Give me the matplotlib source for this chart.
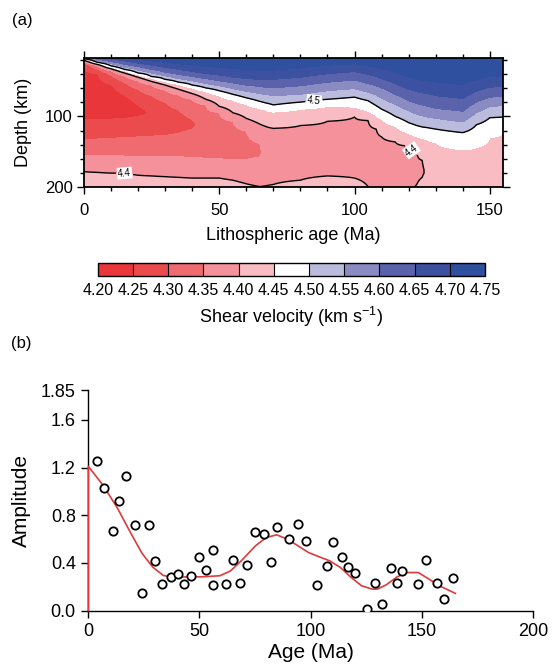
import numpy as np
import matplotlib
matplotlib.use("Agg")
import matplotlib.pyplot as plt
from matplotlib.ticker import MultipleLocator, FixedLocator

plt.rcParams['font.family'] = ['Liberation Sans', 'DejaVu Sans']
plt.rcParams['mathtext.fontset'] = 'custom'
plt.rcParams['mathtext.rm'] = 'Liberation Sans'
plt.rcParams['mathtext.it'] = 'Liberation Sans:italic'

nan = np.nan

# ---------------- Panel (a): shear velocity section (contour depths)
LEVELS = [4.20, 4.25, 4.30, 4.35, 4.40, 4.45, 4.50, 4.55, 4.60, 4.65, 4.70, 4.75]
BAND_COLORS = ['#e8363a', '#ec4b4e', '#f06b70', '#f4919a', '#f9bcc3', '#ffffff',
               '#bbbcdd', '#8a8bc3', '#5a62ab', '#3d51a1', '#2f4f9f']
CB_TICKLABELS = ['4.20', '4.25', '4.30', '4.35', '4.40', '4.45', '4.50', '4.55',
                 '4.60', '4.65', '4.70', '4.75']

DEPTH_TOP = 18.3
DEPTH_BOT = 200.0
AGES = [0, 5, 10, 15, 20, 25, 30, 35, 40, 45, 50, 55, 60, 65, 67, 70, 80, 90, 100,
        105, 108, 110, 115, 120, 123, 125, 127, 130, 140, 145, 150, 155]
VTOP = [4.52, 4.62, 4.67, 4.69, 4.71] + [4.745] * 27
U470 = [nan, nan, nan, nan, 20, 22, 24, 26, 28, 30, 31, 33, 34, 35, 35, 35, 32, 28, 26,
        29, 31, 33, 39, 45, 48, 49, 50, 52, 56, 49, 44, 43]
U465 = [nan, nan, 19.5, 22, 25, 28, 31, 34, 37, 40, 42, 45, 47, 48, 48, 48, 45, 40, 37,
        41, 44, 47, 54, 62, 65, 67, 68, 71, 75, 65, 59, 58]
U460 = [nan, 20, 23, 27, 30, 34, 38, 41, 44, 47, 50, 53, 56, 58, 59, 60, 57, 52, 49,
        54, 57, 60, 69, 78, 82, 84, 86, 89, 93, 80, 73, 72]
U455 = [nan, 22, 26, 31, 35, 39, 43, 47, 50, 54, 57, 61, 65, 68, 69, 71, 69, 64, 61,
        66, 70, 74, 83, 92, 97, 99, 101, 103, 108, 95, 86, 85]
U450 = [19.0, 24, 29, 34, 39, 44, 48, 52, 56, 60, 64, 69, 74, 79, 81, 84, 80, 76, 73,
        78, 85, 90, 100, 109, 113, 115, 116, 118, 123, 112, 102, 101]
U445 = [20, 25.5, 31, 36, 41, 46, 51, 55, 60, 65, 71, 77, 83, 89, 91, 94, 90, 86, 87,
        93, 99, 104, 114, 124, 129, 131, 133, 137, 147, 144, 130, 121]
U440 = [21, 27, 33, 39, 45, 51, 56, 62, 68, 76, 86, 95, 103, 111, 114, 117, 113, 107, 101,
        106, 118, 129, 136, 142, 150, 162, nan, nan, nan, nan, nan, nan]
U435 = [23, 29, 36, 43, 50, 56, 63, 70, 76, 84, 95, 107, 121, 138] + [nan] * 18
U430 = [25, 33, 42, 52, 62, 71, 80, 91, 104] + [nan] * 23
U425 = [28, 40, 55, 70, 84] + [nan] * 27
DMIN = [70, 75, 80, 85, 92, 97, 105, 108, 112, 125, 130, 135, 140, 148, 152, 155, 155, 155, 150,
        158, 162, 165, 170, 175, 176, 175, 180, 200, 200, 200, 200, 200]
VMIN = [4.215, 4.21, 4.21, 4.215, 4.235, 4.252, 4.265, 4.28, 4.29, 4.31, 4.32, 4.33, 4.34,
        4.347, 4.352, 4.36, 4.37, 4.37, 4.37, 4.37, 4.372, 4.375, 4.38, 4.385, 4.392,
        4.395, 4.405, 4.41, 4.42, 4.42, 4.42, 4.42]
L425 = [105, 105, 104, 103, 100] + [nan] * 27
L430 = [133, 132, 131, 130, 129, 128, 127, 124, 118] + [nan] * 23
L435 = [155, 155, 155, 156, 156, 156, 156, 157, 158, 159, 160, 161, 161, 158] + [nan] * 18
L440 = [178, 179, 180, 180, 183, 184, 185, 186, 187, 187, 187, 190, 195, 199, 198, 196, 190,
        184, 187, 199, nan, nan, nan, nan, 196, 186, nan, nan, nan, nan, nan, nan]
VBOT = [4.43, 4.43, 4.43, 4.43, 4.42, 4.42, 4.42, 4.42, 4.42, 4.42, 4.42, 4.415, 4.405,
        4.401, 4.402, 4.405, 4.42, 4.43, 4.42, 4.401, 4.39, 4.385, 4.385, 4.395, 4.402,
        4.41, 4.42, 4.42, 4.42, 4.42, 4.42, 4.42]
CONTOUR_LINES = [4.4, 4.5]

# ---------------- Panel (b): amplitude vs age
PT_AGE = [4.1, 7.0, 11.1, 14.0, 17.0, 21.0, 24.2, 27.2, 30.1, 33.1, 37.1, 40.3, 43.2, 46.2,
          50.0, 53.0, 56.1, 56.1, 62.1, 65.1, 68.2, 71.2, 75.0, 78.8, 82.2, 85.0, 90.1,
          94.1, 98.1, 103.0, 107.2, 110.0, 114.2, 117.0, 120.1, 125.2, 129.1, 132.0,
          136.0, 139.0, 140.9, 148.1, 152.1, 156.8, 160.0, 164.0]
PT_AMP = [1.254, 1.031, 0.666, 0.920, 1.132, 0.719, 0.145, 0.719, 0.415, 0.226, 0.282,
          0.309, 0.226, 0.293, 0.446, 0.337, 0.507, 0.212, 0.226, 0.426, 0.234, 0.385,
          0.661, 0.641, 0.407, 0.700, 0.599, 0.730, 0.588, 0.212, 0.373, 0.577, 0.446,
          0.365, 0.315, 0.017, 0.234, 0.053, 0.354, 0.234, 0.329, 0.223, 0.426, 0.234,
          0.095, 0.273]
FIT_AGE = [0, 0, 6.7, 13.1, 19.4, 24.2, 29, 33.8, 38.5, 44.9, 51.3, 59.2, 64, 68.8, 75.2,
           80, 84.7, 89.5, 94.3, 99, 103.8, 108.6, 113.4, 118.2, 122.9, 127.7, 130, 134,
           138.9, 143.6, 148.4, 153.2, 157.9, 165.1]
FIT_AMP = [0, 1.21, 1.05, 0.86, 0.64, 0.48, 0.365, 0.295, 0.28, 0.284, 0.284, 0.293, 0.334,
           0.418, 0.544, 0.613, 0.636, 0.60, 0.544, 0.488, 0.452, 0.418, 0.362, 0.279,
           0.209, 0.181, 0.181, 0.217, 0.284, 0.32, 0.32, 0.265, 0.209, 0.145]
B_YTICKS = [0.0, 0.4, 0.8, 1.2, 1.6, 1.85]
B_YTICKLABELS = ['0.0', '0.4', '0.8', '1.2', '1.6', '1.85']
B_XTICKS = [0, 50, 100, 150, 200]

# ---------------- build field from the read contour depths
up_sets = [(4.70, U470), (4.65, U465), (4.60, U460), (4.55, U455), (4.50, U450),
           (4.45, U445), (4.40, U440), (4.35, U435), (4.30, U430), (4.25, U425)]
lo_sets = [(4.25, L425), (4.30, L430), (4.35, L435), (4.40, L440)]
depth_grid = np.linspace(DEPTH_TOP, DEPTH_BOT, 600)
Z = np.empty((len(depth_grid), len(AGES)))
for j in range(len(AGES)):
    kd = [DEPTH_TOP]
    kv = [VTOP[j]]
    for lev, arr in up_sets:
        if not np.isnan(arr[j]):
            kd.append(arr[j]); kv.append(lev)
    kd.append(DMIN[j]); kv.append(VMIN[j])
    for lev, arr in lo_sets:
        if not np.isnan(arr[j]):
            kd.append(arr[j]); kv.append(lev)
    if DMIN[j] < DEPTH_BOT:
        kd.append(DEPTH_BOT); kv.append(VBOT[j])
    Z[:, j] = np.interp(depth_grid, kd, kv)

fig = plt.figure(figsize=(5.56, 6.65), dpi=100)
W, H = 556.0, 665.0

# ---- panel (a)
ax_a = fig.add_axes([84 / W, (H - 187.3) / H, 419.3 / W, 129 / H])
cf = ax_a.contourf(AGES, depth_grid, Z, levels=LEVELS, colors=BAND_COLORS)
cs = ax_a.contour(AGES, depth_grid, Z, levels=CONTOUR_LINES, colors='k', linewidths=1.0)
labels = ax_a.clabel(cs, fmt={4.4: '4.4', 4.5: '4.5'}, fontsize=7, inline=True,
                     inline_spacing=2, manual=[(85, 77), (15, 180), (121, 148)])
for t in labels:
    t.set_bbox(dict(facecolor='white', edgecolor='none', pad=0.6))
ax_a.set_xlim(0, 155)
ax_a.set_ylim(DEPTH_BOT, DEPTH_TOP)
ax_a.xaxis.set_major_locator(FixedLocator([0, 50, 100, 150]))
ax_a.xaxis.set_minor_locator(MultipleLocator(10))
ax_a.yaxis.set_major_locator(FixedLocator([100, 200]))
ax_a.yaxis.set_minor_locator(FixedLocator([20, 40, 60, 80, 120, 140, 160, 180]))
ax_a.tick_params(which='both', direction='out', top=True, right=True,
                 labelsize=12, width=1.0)
ax_a.tick_params(axis='x', which='major', length=5, pad=6)
ax_a.tick_params(axis='y', which='major', length=5, pad=3)
ax_a.tick_params(which='minor', length=3)
for s in ax_a.spines.values():
    s.set_linewidth(1.3)
ax_a.set_xlabel('Lithospheric age (Ma)', fontsize=13, va='center')
ax_a.xaxis.set_label_coords(0.5, (187.3 - 235) / 129)
ax_a.set_ylabel('Depth (km)', fontsize=13, va='center')
ax_a.yaxis.set_label_coords((23 - 84) / 419.3, 0.5)

# ---- colorbar
cax = fig.add_axes([97.7 / W, (H - 275.7) / H, 387.3 / W, 13 / H])
cb = fig.colorbar(cf, cax=cax, orientation='horizontal', ticks=LEVELS, drawedges=True)
cb.ax.set_xticklabels(CB_TICKLABELS)
cb.ax.tick_params(length=0, labelsize=11.5, pad=5)
cb.outline.set_linewidth(1.0)
cb.dividers.set_linewidth(0.8)
cb.set_label('Shear velocity (km s$^{-1}$)', fontsize=13, labelpad=5)

# ---- panel (b)
ax_b = fig.add_axes([88.3 / W, (H - 610.7) / H, 444.7 / W, 220.7 / H])
ax_b.plot(FIT_AGE, FIT_AMP, color='#e0393c', lw=1.2, zorder=3, clip_on=False)
ax_b.plot(PT_AGE, PT_AMP, linestyle='none', marker='o', ms=6, mfc='white',
          mec='black', mew=1.3, zorder=4)
ax_b.set_xlim(0, 200)
ax_b.set_ylim(0, 1.85)
ax_b.set_xticks(B_XTICKS)
ax_b.set_yticks(B_YTICKS)
ax_b.set_yticklabels(B_YTICKLABELS)
ax_b.spines['top'].set_visible(False)
ax_b.spines['right'].set_visible(False)
for s in ('left', 'bottom'):
    ax_b.spines[s].set_linewidth(1.0)
ax_b.tick_params(direction='out', length=5, width=1.0, labelsize=13, pad=4)
ax_b.set_xlabel('Age (Ma)', fontsize=15, va='center')
ax_b.xaxis.set_label_coords(0.5, (610.7 - 653) / 220.7)
ax_b.set_ylabel('Amplitude', fontsize=15, va='center')
ax_b.yaxis.set_label_coords((21 - 88.3) / 444.7, 0.5)

fig.text(22 / W, 1 - 20 / H, '(a)', ha='center', va='center', fontsize=12)
fig.text(21 / W, 1 - 343 / H, '(b)', ha='center', va='center', fontsize=12)

fig.savefig('out.png', dpi=100)
